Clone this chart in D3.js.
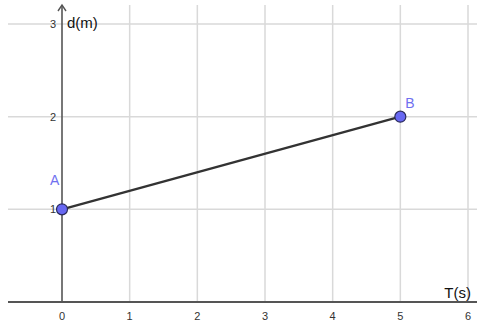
<!DOCTYPE html>
<html>
<head>
<meta charset="utf-8">
<script src="https://cdn.jsdelivr.net/npm/d3@7/dist/d3.min.js"></script>
<style>
  html, body { margin: 0; padding: 0; background: #fff; }
  svg { display: block; font-family: "Liberation Sans", Arial, sans-serif; }
</style>
</head>
<body>
<svg id="chart" width="477" height="325"></svg>
<script>
// Distance vs time: segment from A to B
const pointNames = ["A", "B"];
const timeValues = [0, 5];
const distValues = [1, 2];
const xTicks = [0, 1, 2, 3, 4, 5, 6];
const yTicks = [1, 2, 3];
const xAxisTitle = "T(s)";
const yAxisTitle = "d(m)";

const W = 477, H = 325;
const svg = d3.select("#chart");

const x = d3.scaleLinear().domain([0, 6]).range([62, 468]);
const y = d3.scaleLinear().domain([0, 3]).range([302, 24]);

const plotLeft = 8, plotTop = 5, plotRight = W;

// grid
const grid = svg.append("g").attr("stroke", "#d9d9d9").attr("stroke-width", 1.5);
grid.selectAll("line.v").data(xTicks.filter(d => d !== 0)).join("line")
  .attr("x1", d => x(d)).attr("x2", d => x(d))
  .attr("y1", plotTop).attr("y2", y(0));
grid.selectAll("line.h").data(yTicks).join("line")
  .attr("x1", plotLeft).attr("x2", plotRight)
  .attr("y1", d => y(d)).attr("y2", d => y(d));

// axes
const axisColor = "#555";
svg.append("line")
  .attr("x1", plotLeft).attr("x2", plotRight)
  .attr("y1", y(0)).attr("y2", y(0))
  .attr("stroke", axisColor).attr("stroke-width", 2);
svg.append("line")
  .attr("x1", x(0)).attr("x2", x(0))
  .attr("y1", plotTop).attr("y2", y(0))
  .attr("stroke", axisColor).attr("stroke-width", 1.6);
// arrow head on the vertical axis
svg.append("path")
  .attr("d", `M${x(0) - 4},${plotTop + 6} L${x(0)},${plotTop} L${x(0) + 4},${plotTop + 6}`)
  .attr("fill", "none").attr("stroke", axisColor).attr("stroke-width", 1.4);

// tick labels
svg.append("g").selectAll("text").data(xTicks).join("text")
  .attr("x", d => x(d)).attr("y", 320)
  .attr("text-anchor", "middle")
  .attr("font-size", 11).attr("fill", "#333")
  .text(d => d);
svg.append("g").selectAll("text").data(yTicks).join("text")
  .attr("x", x(0) - 6).attr("y", d => y(d) + 4)
  .attr("text-anchor", "end")
  .attr("font-size", 11).attr("fill", "#333")
  .text(d => d);

// axis titles
svg.append("text").attr("x", x(0) + 5).attr("y", 28)
  .attr("font-size", 15).attr("fill", "#111").text(yAxisTitle);
svg.append("text").attr("x", 471).attr("y", 298)
  .attr("text-anchor", "end")
  .attr("font-size", 15).attr("fill", "#111").text(xAxisTitle);

// segment
const pts = pointNames.map((n, i) => ({ name: n, t: timeValues[i], d: distValues[i] }));
svg.append("path")
  .datum(pts)
  .attr("d", d3.line().x(p => x(p.t)).y(p => y(p.d)))
  .attr("fill", "none").attr("stroke", "#333").attr("stroke-width", 2.3);

// points and labels
svg.append("g").selectAll("circle").data(pts).join("circle")
  .attr("cx", p => x(p.t)).attr("cy", p => y(p.d)).attr("r", 5.5)
  .attr("fill", "#6868f2").attr("stroke", "#2a2a5a").attr("stroke-width", 1.2);
svg.append("g").selectAll("text").data(pts).join("text")
  .attr("x", p => x(p.t) + (p.t === 0 ? -12 : 5))
  .attr("y", p => y(p.d) + (p.t === 0 ? -24 : -9))
  .attr("font-size", 14).attr("fill", "#7070f0")
  .text(p => p.name);
</script>
</body>
</html>
